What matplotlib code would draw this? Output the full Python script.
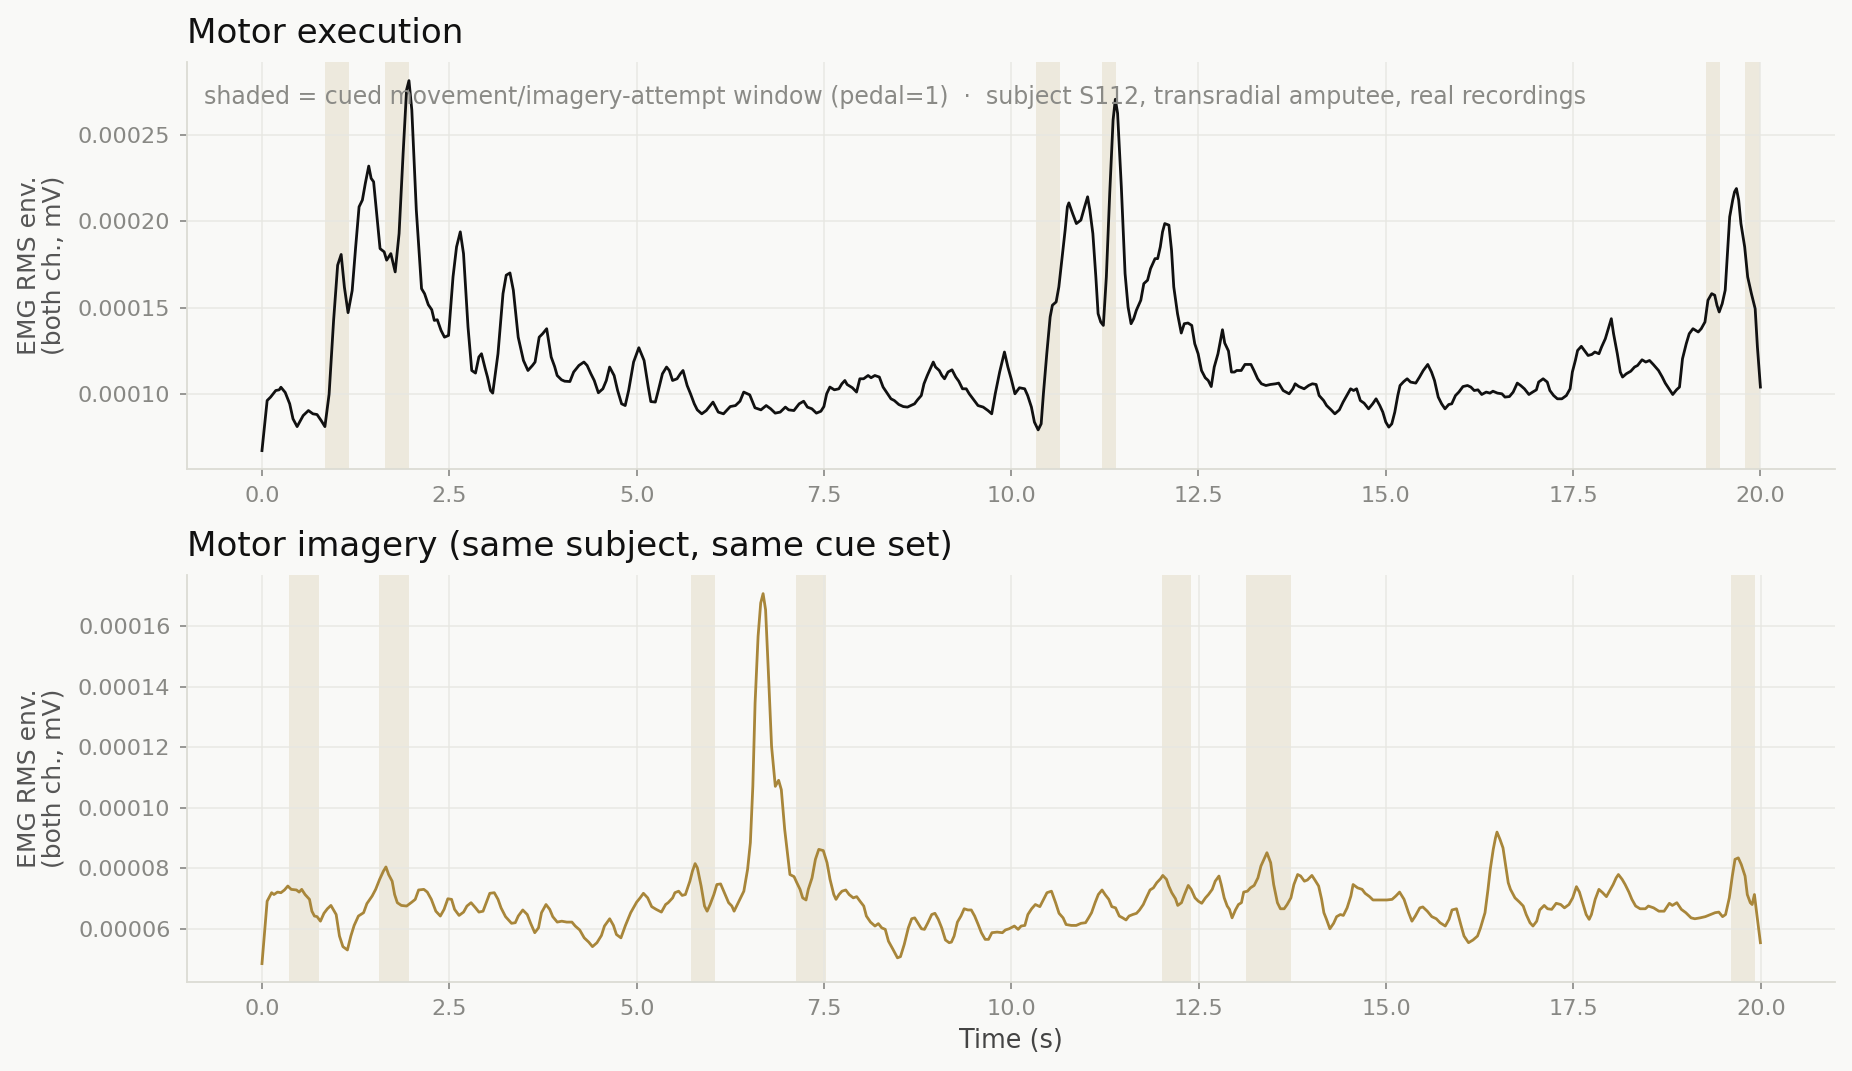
import numpy as np
import matplotlib
matplotlib.use("Agg")
import matplotlib.pyplot as plt
from matplotlib.ticker import FormatStrFormatter, MultipleLocator

# EMG RMS envelope, values in units of 1e-5 mV
exec_t = [0, 0.069, 0.115, 0.184, 0.23, 0.253, 0.31, 0.37, 0.414, 0.469, 0.55, 0.62, 0.68, 0.735, 0.79, 0.84,
          0.896, 0.956, 1.01, 1.057, 1.10, 1.149, 1.204, 1.25, 1.296, 1.34, 1.379, 1.425, 1.457, 1.49, 1.54,
          1.576, 1.631, 1.664, 1.72, 1.778, 1.83, 1.884, 1.93, 1.962, 2.0, 2.06, 2.13, 2.17, 2.22, 2.266, 2.30,
          2.34, 2.39, 2.436, 2.49, 2.55, 2.597, 2.647, 2.69, 2.75, 2.80, 2.85, 2.895, 2.93, 2.98, 3.01, 3.05,
          3.08, 3.15, 3.217, 3.26, 3.31, 3.355, 3.42, 3.49, 3.55, 3.61, 3.645, 3.70, 3.746, 3.80, 3.86, 3.906,
          3.94, 3.998, 4.04, 4.11, 4.16, 4.23, 4.297, 4.34, 4.39, 4.435, 4.49, 4.55, 4.596, 4.64, 4.70, 4.747,
          4.80, 4.848, 4.894, 4.96, 5.03, 5.10, 5.156, 5.19, 5.25, 5.29, 5.345, 5.40, 5.437, 5.48, 5.54, 5.584,
          5.62, 5.675, 5.72, 5.77, 5.81, 5.87, 5.93, 6.02, 6.09, 6.16, 6.25, 6.32, 6.38, 6.43, 6.51, 6.58, 6.66,
          6.73, 6.79, 6.85, 6.917, 6.986, 7.03, 7.10, 7.17, 7.23, 7.28, 7.34, 7.40, 7.46, 7.50, 7.537, 7.58,
          7.64, 7.70, 7.74, 7.78, 7.81, 7.88, 7.936, 7.98, 8.03, 8.09, 8.13, 8.18, 8.24, 8.29, 8.35, 8.395, 8.44,
          8.50, 8.56, 8.616, 8.66, 8.71, 8.75, 8.80, 8.836, 8.88, 8.92, 8.96, 8.99, 9.04, 9.075, 9.11, 9.157,
          9.21, 9.26, 9.30, 9.35, 9.40, 9.44, 9.49, 9.557, 9.626, 9.69, 9.74, 9.787, 9.846, 9.91, 9.956, 10.0,
          10.05, 10.11, 10.18, 10.22, 10.27, 10.31, 10.36, 10.40, 10.43, 10.475, 10.52, 10.55, 10.60, 10.636,
          10.68, 10.72, 10.75, 10.77, 10.82, 10.87, 10.93, 10.98, 11.02, 11.05, 11.09, 11.13, 11.16, 11.195,
          11.23, 11.27, 11.315, 11.36, 11.39, 11.42, 11.47, 11.52, 11.56, 11.60, 11.635, 11.67, 11.73, 11.77,
          11.82, 11.86, 11.92, 11.955, 11.99, 12.02, 12.05, 12.105, 12.14, 12.17, 12.22, 12.27, 12.31, 12.36,
          12.41, 12.45, 12.495, 12.54, 12.59, 12.63, 12.67, 12.71, 12.76, 12.82, 12.85, 12.90, 12.94, 12.98,
          13.01, 13.07, 13.12, 13.20, 13.24, 13.29, 13.34, 13.40, 13.46, 13.53, 13.57, 13.63, 13.71, 13.76,
          13.79, 13.84, 13.91, 13.97, 14.02, 14.07, 14.11, 14.17, 14.21, 14.27, 14.32, 14.38, 14.43, 14.48,
          14.53, 14.57, 14.61, 14.66, 14.71, 14.77, 14.825, 14.87, 14.92, 14.96, 15.0, 15.04, 15.08, 15.12,
          15.16, 15.19, 15.24, 15.285, 15.33, 15.40, 15.45, 15.50, 15.56, 15.61, 15.65, 15.70, 15.745, 15.79,
          15.84, 15.88, 15.93, 15.975, 16.03, 16.09, 16.135, 16.18, 16.23, 16.28, 16.34, 16.39, 16.43, 16.49,
          16.55, 16.59, 16.65, 16.70, 16.755, 16.80, 16.85, 16.91, 16.96, 17.01, 17.04, 17.10, 17.155, 17.19,
          17.24, 17.29, 17.35, 17.41, 17.46, 17.49, 17.53, 17.56, 17.61, 17.65, 17.70, 17.75, 17.79, 17.845,
          17.88, 17.93, 17.97, 18.01, 18.04, 18.09, 18.13, 18.16, 18.21, 18.27, 18.32, 18.36, 18.42, 18.47,
          18.52, 18.57, 18.64, 18.69, 18.73, 18.78, 18.83, 18.88, 18.92, 18.96, 19.01, 19.05, 19.10, 19.17,
          19.21, 19.26, 19.30, 19.35, 19.39, 19.42, 19.45, 19.49, 19.53, 19.56, 19.59, 19.63, 19.655, 19.68,
          19.71, 19.74, 19.79, 19.83, 19.88, 19.93, 19.96, 20.0]
exec_env = [6.73, 9.63, 9.83, 10.21, 10.25, 10.4, 10.1, 9.44, 8.57, 8.12, 8.76, 9.05, 8.86, 8.82, 8.47, 8.12,
            10.0, 14.27, 17.47, 18.09, 16.2, 14.72, 16.0, 18.5, 20.85, 21.24, 22.2, 23.21, 22.5, 22.3, 20.08,
            18.43, 18.24, 17.76, 18.14, 17.08, 19.3, 23.95, 27.62, 28.16, 26.46, 20.66, 16.11, 15.82, 15.18,
            14.89, 14.27, 14.31, 13.69, 13.3, 13.4, 16.79, 18.53, 19.4, 18.14, 13.89, 11.37, 11.22, 12.15,
            12.34, 11.47, 10.99, 10.21, 10.06, 12.34, 15.82, 16.89, 17.02, 16.02, 13.3, 11.95, 11.37, 11.66,
            11.86, 13.3, 13.5, 13.79, 12.15, 11.6, 11.08, 10.83, 10.75, 10.73, 11.28, 11.66, 11.86, 11.66,
            11.18, 10.79, 10.08, 10.31, 10.79, 11.57, 11.08, 10.21, 9.44, 9.34, 10.21, 11.86, 12.69, 11.95,
            10.41, 9.57, 9.54, 10.21, 11.18, 11.57, 11.37, 10.79, 10.89, 11.18, 11.37, 10.5, 10.02, 9.44, 9.09,
            8.86, 9.05, 9.54, 8.96, 8.86, 9.28, 9.34, 9.59, 10.12, 9.96, 9.21, 9.09, 9.34, 9.15, 8.9, 8.96,
            9.25, 9.09, 9.05, 9.44, 9.59, 9.25, 9.15, 8.9, 9.01, 9.28, 10.02, 10.41, 10.25, 10.31, 10.6, 10.79,
            10.56, 10.37, 10.12, 10.89, 10.89, 11.08, 10.95, 11.08, 10.99, 10.41, 10.02, 9.73, 9.63, 9.4, 9.28,
            9.25, 9.34, 9.44, 9.67, 9.92, 10.6, 11.08, 11.47, 11.86, 11.57, 11.37, 11.08, 10.89, 11.28, 11.41,
            10.99, 10.75, 10.31, 10.31, 10.02, 9.73, 9.34, 9.25, 9.05, 8.86, 10.02, 11.28, 12.44, 11.57, 10.89,
            10.02, 10.37, 10.31, 9.92, 9.25, 8.38, 7.93, 8.28, 10.02, 12.34, 14.47, 15.15, 15.34, 16.21, 17.95,
            19.5, 20.85, 21.08, 20.46, 19.88, 20.08, 20.85, 21.43, 20.66, 19.3, 16.79, 14.66, 14.18, 13.98,
            16.79, 21.62, 25.88, 27.08, 26.27, 22.01, 16.98, 15.05, 14.08, 14.37, 14.85, 15.44, 16.4, 16.6,
            17.27, 17.85, 17.85, 18.53, 19.4, 19.88, 19.79, 18.34, 16.21, 14.66, 13.54, 14.08, 14.12, 13.98,
            12.92, 12.34, 11.37, 10.95, 10.79, 10.44, 11.57, 12.34, 13.73, 12.96, 12.5, 11.28, 11.28, 11.37,
            11.37, 11.72, 11.72, 11.37, 10.89, 10.6, 10.5, 10.56, 10.6, 10.64, 10.21, 10.02, 10.31, 10.6,
            10.44, 10.31, 10.5, 10.6, 10.56, 9.92, 9.63, 9.34, 9.09, 8.86, 9.09, 9.54, 9.92, 10.31, 10.21,
            10.31, 9.63, 9.48, 9.15, 9.44, 9.73, 9.34, 8.96, 8.38, 8.09, 8.28, 8.96, 9.92, 10.5, 10.73, 10.89,
            10.7, 10.64, 10.99, 11.37, 11.72, 11.28, 10.79, 9.83, 9.44, 9.15, 9.4, 9.44, 9.92, 10.12, 10.44,
            10.5, 10.41, 10.21, 10.25, 9.98, 10.12, 10.06, 10.17, 10.06, 10.02, 9.83, 9.86, 10.12, 10.64, 10.5,
            10.31, 9.98, 10.12, 10.25, 10.7, 10.89, 10.7, 10.21, 9.92, 9.73, 9.73, 9.92, 10.31, 11.28, 11.95,
            12.53, 12.77, 12.53, 12.24, 12.3, 12.44, 12.34, 12.73, 13.21, 13.79, 14.37, 13.5, 12.34, 11.28,
            10.99, 11.18, 11.33, 11.57, 11.66, 11.99, 11.86, 11.95, 11.72, 11.37, 10.99, 10.64, 10.31, 9.98,
            10.25, 10.41, 12.05, 12.92, 13.5, 13.79, 13.6, 13.79, 14.18, 15.44, 15.82, 15.73, 15.15, 14.76,
            15.24, 16.02, 18.14, 20.27, 21.24, 21.72, 21.91, 21.24, 19.88, 18.53, 16.79, 15.82, 14.95, 12.73,
            10.41]

imag_t = [0, 0.069, 0.129, 0.16, 0.207, 0.253, 0.30, 0.345, 0.39, 0.46, 0.496, 0.53, 0.575, 0.634, 0.666,
          0.70, 0.735, 0.78, 0.827, 0.873, 0.92, 0.99, 1.034, 1.08, 1.14, 1.186, 1.23, 1.287, 1.356, 1.40,
          1.47, 1.517, 1.57, 1.62, 1.654, 1.69, 1.737, 1.77, 1.806, 1.86, 1.93, 2.0, 2.045, 2.09, 2.16, 2.206,
          2.26, 2.32, 2.38, 2.43, 2.48, 2.53, 2.57, 2.63, 2.69, 2.735, 2.79, 2.85, 2.895, 2.95, 3.0, 3.04, 3.10,
          3.15, 3.19, 3.25, 3.33, 3.38, 3.42, 3.48, 3.54, 3.585, 3.64, 3.69, 3.73, 3.79, 3.84, 3.88, 3.94, 4.0,
          4.067, 4.136, 4.18, 4.24, 4.30, 4.36, 4.41, 4.47, 4.53, 4.57, 4.64, 4.69, 4.73, 4.79, 4.85, 4.92,
          5.0, 5.046, 5.09, 5.147, 5.2, 5.26, 5.33, 5.386, 5.42, 5.48, 5.51, 5.56, 5.607, 5.65, 5.71, 5.744,
          5.78, 5.81, 5.86, 5.905, 5.94, 5.98, 6.03, 6.07, 6.12, 6.17, 6.227, 6.27, 6.30, 6.365, 6.43, 6.48,
          6.517, 6.55, 6.58, 6.62, 6.655, 6.687, 6.72, 6.756, 6.80, 6.85, 6.894, 6.93, 6.975, 7.045, 7.10,
          7.137, 7.18, 7.215, 7.26, 7.29, 7.34, 7.385, 7.43, 7.49, 7.54, 7.58, 7.63, 7.66, 7.70, 7.74, 7.79,
          7.835, 7.89, 7.936, 7.98, 8.03, 8.065, 8.12, 8.18, 8.225, 8.27, 8.317, 8.36, 8.42, 8.48, 8.52, 8.57,
          8.625, 8.67, 8.71, 8.75, 8.80, 8.84, 8.886, 8.937, 8.98, 9.025, 9.07, 9.12, 9.17, 9.20, 9.236, 9.28,
          9.327, 9.37, 9.42, 9.465, 9.51, 9.557, 9.60, 9.65, 9.695, 9.74, 9.81, 9.88, 9.92, 9.97, 10.04, 10.09,
          10.13, 10.18, 10.22, 10.27, 10.32, 10.38, 10.43, 10.475, 10.535, 10.59, 10.636, 10.69, 10.73, 10.80,
          10.865, 10.93, 10.99, 11.03, 11.07, 11.117, 11.16, 11.21, 11.25, 11.30, 11.34, 11.39, 11.44, 11.485,
          11.53, 11.57, 11.62, 11.67, 11.71, 11.76, 11.80, 11.85, 11.895, 11.94, 11.99, 12.02, 12.07, 12.10,
          12.14, 12.19, 12.22, 12.27, 12.31, 12.36, 12.40, 12.45, 12.495, 12.54, 12.59, 12.63, 12.68, 12.72,
          12.77, 12.80, 12.84, 12.88, 12.91, 12.945, 12.99, 13.03, 13.07, 13.10, 13.15, 13.19, 13.24, 13.29,
          13.33, 13.38, 13.41, 13.46, 13.50, 13.55, 13.59, 13.64, 13.68, 13.73, 13.77, 13.82, 13.86, 13.91,
          13.95, 14.01, 14.05, 14.10, 14.14, 14.17, 14.205, 14.25, 14.30, 14.34, 14.39, 14.43, 14.48, 14.53,
          14.56, 14.62, 14.68, 14.72, 14.78, 14.825, 14.885, 14.94, 15.01, 15.08, 15.13, 15.18, 15.24, 15.30,
          15.345, 15.39, 15.45, 15.49, 15.55, 15.61, 15.67, 15.72, 15.79, 15.84, 15.88, 15.94, 16.0, 16.04,
          16.10, 16.16, 16.22, 16.26, 16.32, 16.36, 16.39, 16.43, 16.46, 16.48, 16.52, 16.56, 16.59, 16.63,
          16.66, 16.72, 16.78, 16.83, 16.87, 16.92, 16.96, 17.01, 17.05, 17.11, 17.155, 17.21, 17.27, 17.33,
          17.38, 17.44, 17.49, 17.54, 17.58, 17.63, 17.67, 17.71, 17.74, 17.79, 17.84, 17.89, 17.94, 17.98,
          18.03, 18.07, 18.10, 18.15, 18.19, 18.24, 18.28, 18.33, 18.39, 18.46, 18.50, 18.57, 18.64, 18.71,
          18.78, 18.82, 18.88, 18.94, 19.0, 19.07, 19.12, 19.19, 19.26, 19.33, 19.39, 19.44, 19.49, 19.53,
          19.58, 19.62, 19.656, 19.70, 19.74, 19.79, 19.82, 19.86, 19.885, 19.915, 19.95, 19.995]
imag_env = [4.86, 6.92, 7.2, 7.14, 7.22, 7.2, 7.29, 7.42, 7.31, 7.29, 7.22, 7.31, 7.14, 6.98, 6.59, 6.43, 6.41,
            6.26, 6.52, 6.67, 6.78, 6.48, 5.77, 5.42, 5.31, 5.77, 6.12, 6.43, 6.54, 6.84, 7.09, 7.31, 7.64,
            7.91, 8.05, 7.8, 7.58, 7.14, 6.87, 6.78, 6.76, 6.89, 6.98, 7.29, 7.31, 7.22, 6.98, 6.59, 6.43, 6.65,
            7.0, 6.98, 6.65, 6.45, 6.56, 6.76, 6.87, 6.7, 6.56, 6.59, 6.92, 7.18, 7.2, 6.98, 6.7, 6.41, 6.19,
            6.21, 6.43, 6.63, 6.48, 6.19, 5.88, 6.04, 6.54, 6.81, 6.65, 6.41, 6.23, 6.26, 6.23, 6.23, 6.1, 5.97,
            5.71, 5.57, 5.42, 5.55, 5.79, 6.1, 6.34, 6.12, 5.82, 5.71, 6.12, 6.54, 6.89, 7.03, 7.18, 7.03, 6.74,
            6.65, 6.56, 6.81, 6.87, 7.03, 7.2, 7.25, 7.11, 7.14, 7.58, 7.91, 8.16, 8.02, 7.42, 6.76, 6.59, 6.81,
            7.14, 7.47, 7.49, 7.2, 6.87, 6.76, 6.59, 6.92, 7.25, 7.97, 8.85, 10.71, 13.46, 15.66, 16.76, 17.07,
            16.54, 14.56, 12.03, 10.71, 10.91, 10.6, 9.29, 7.8, 7.73, 7.53, 7.31, 7.03, 6.96, 7.31, 7.69, 8.3,
            8.63, 8.59, 8.19, 7.64, 7.14, 6.98, 7.14, 7.25, 7.29, 7.14, 7.03, 7.07, 6.92, 6.76, 6.43, 6.23, 6.1,
            6.18, 6.04, 5.99, 5.6, 5.33, 5.05, 5.09, 5.49, 6.04, 6.34, 6.37, 6.21, 6.01, 5.99, 6.21, 6.48, 6.52,
            6.32, 6.04, 5.64, 5.55, 5.57, 5.77, 6.23, 6.43, 6.67, 6.63, 6.63, 6.43, 6.15, 5.88, 5.66, 5.66,
            5.88, 5.9, 5.88, 5.97, 6.01, 6.1, 5.99, 6.1, 6.12, 6.48, 6.67, 6.81, 6.74, 6.98, 7.2, 7.25, 6.87,
            6.52, 6.37, 6.15, 6.12, 6.12, 6.19, 6.21, 6.37, 6.54, 6.87, 7.14, 7.29, 7.14, 6.98, 6.74, 6.7, 6.43,
            6.37, 6.3, 6.43, 6.48, 6.52, 6.63, 6.81, 7.03, 7.29, 7.36, 7.53, 7.66, 7.77, 7.64, 7.42, 7.2, 7.0,
            6.78, 6.87, 7.14, 7.44, 7.31, 7.03, 6.92, 6.85, 7.03, 7.14, 7.31, 7.58, 7.75, 7.47, 7.03, 6.76,
            6.65, 6.37, 6.63, 6.81, 6.87, 7.22, 7.25, 7.36, 7.44, 7.69, 8.08, 8.35, 8.52, 8.19, 7.47, 6.87,
            6.67, 6.67, 6.81, 7.03, 7.47, 7.8, 7.75, 7.58, 7.62, 7.77, 7.62, 7.42, 6.98, 6.54, 6.32, 6.01, 6.19,
            6.41, 6.48, 6.45, 6.7, 7.09, 7.47, 7.36, 7.31, 7.18, 7.07, 6.96, 6.96, 6.96, 6.96, 6.98, 7.09, 7.22,
            6.98, 6.54, 6.26, 6.43, 6.7, 6.73, 6.59, 6.41, 6.34, 6.21, 6.1, 6.32, 6.63, 6.67, 6.12, 5.77, 5.55,
            5.64, 5.77, 6.04, 6.54, 7.31, 7.97, 8.63, 9.01, 9.2, 8.96, 8.68, 8.19, 7.53, 7.31, 7.03, 6.89, 6.76,
            6.48, 6.21, 6.1, 6.26, 6.63, 6.78, 6.67, 6.65, 6.85, 6.81, 6.7, 6.81, 7.03, 7.4, 7.22, 6.81, 6.48,
            6.32, 6.48, 6.98, 7.31, 7.2, 7.07, 7.25, 7.47, 7.69, 7.8, 7.64, 7.47, 7.22, 6.98, 6.76, 6.67, 6.67,
            6.76, 6.7, 6.59, 6.59, 6.85, 6.78, 6.87, 6.65, 6.54, 6.37, 6.34, 6.37, 6.41, 6.48, 6.54, 6.56, 6.41,
            6.48, 7.03, 7.75, 8.3, 8.35, 8.13, 7.75, 7.14, 6.87, 6.81, 7.14, 6.43, 5.55]

# cued windows (pedal = 1), seconds
exec_cues = [(0.84, 1.16), (1.64, 1.96), (10.33, 10.645), (11.21, 11.40), (19.27, 19.46), (19.79, 20.0)]
imag_cues = [(0.36, 0.76), (1.56, 1.96), (5.73, 6.04), (7.13, 7.52), (12.01, 12.40), (13.13, 13.73),
             (19.60, 19.92)]

BG = "#f9f9f7"
SHADE = "#ede9dd"
GRID = "#e7e7e2"
SPINE = "#dcdcd4"
TICK = "#888884"

fig = plt.figure(figsize=(18.52, 10.71), dpi=100, facecolor=BG)
ax1 = fig.add_axes([0.101, 0.562, 0.890, 0.380])
ax2 = fig.add_axes([0.101, 0.083, 0.890, 0.380])

panels = [
    (ax1, exec_t, exec_env, exec_cues, "#111111", "Motor execution", MultipleLocator(0.00005)),
    (ax2, imag_t, imag_env, imag_cues, "#a8863a", "Motor imagery (same subject, same cue set)",
     MultipleLocator(0.00002)),
]

for ax, t, env, cues, col, title, loc in panels:
    ax.set_facecolor(BG)
    # shading sits under the grid, as in the original
    for a, b in cues:
        ax.axvspan(a, b, color=SHADE, lw=0, zorder=0.2)
    ax.plot(t, np.array(env) * 1e-5, color=col, lw=2.0, zorder=3)
    ax.grid(True, color=GRID, lw=1.2, alpha=0.85)
    ax.set_axisbelow(True)
    for s in ["top", "right"]:
        ax.spines[s].set_visible(False)
    for s in ["left", "bottom"]:
        ax.spines[s].set_color(SPINE)
        ax.spines[s].set_linewidth(1.3)
    ax.yaxis.set_major_locator(loc)
    ax.yaxis.set_major_formatter(FormatStrFormatter("%.5f"))
    ax.xaxis.set_major_locator(MultipleLocator(2.5))
    ax.tick_params(colors=TICK, labelsize=16.1, length=5, width=1.2, pad=7)
    ax.set_ylabel("EMG RMS env.\n(both ch., mV)", fontsize=18, color="#555555", linespacing=1.0,
                  labelpad=9)
    ax.set_title(title, loc="left", fontsize=24.6, color="#111111", pad=14)

ax1.text(0.01, 0.945, "shaded = cued movement/imagery-attempt window (pedal=1)  \u00b7  subject S112, "
         "transradial amputee, real recordings", transform=ax1.transAxes, ha="left", va="top",
         fontsize=17, color="#8a8a86", zorder=4)
ax2.set_xlabel("Time (s)", fontsize=18.4, color="#444444", labelpad=7)

fig.savefig("out.png", dpi=100, facecolor=BG)
